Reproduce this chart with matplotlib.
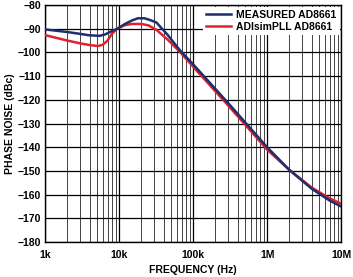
import matplotlib.pyplot as plt
import matplotlib.ticker as mticker
import numpy as np

plt.rcParams['font.family'] = ['Liberation Sans', 'DejaVu Sans']
plt.rcParams['font.weight'] = 'bold'

# frequency (Hz) and phase noise (dBc/Hz)
freq_meas = [1e3, 2e3, 3e3, 4e3, 5.5e3, 6.5e3, 8e3, 9.5e3, 12e3, 15e3, 18e3, 22e3,
             26e3, 32e3, 45e3, 66e3, 100e3, 300e3, 1e6, 2e6, 4e6, 7e6, 10e6]
pn_meas = [-90.3, -91.4, -92.2, -92.8, -93.0, -92.4, -91.0, -90.0, -88.0, -86.5,
           -85.6, -85.6, -86.3, -87.4, -92.5, -99.0, -105.0, -121.5, -140.0,
           -149.6, -157.5, -162.5, -165.0]

freq_sim = [1e3, 2e3, 3e3, 4e3, 5.2e3, 6e3, 7e3, 8e3, 9.4e3, 12e3, 15e3, 20e3, 25e3,
            32e3, 45e3, 66e3, 100e3, 300e3, 1e6, 2e6, 4e6, 7e6, 10e6]
pn_sim = [-92.7, -95.0, -96.2, -96.9, -97.3, -96.8, -95.0, -92.2, -90.0, -88.5,
          -88.0, -88.0, -88.6, -90.5, -94.5, -99.7, -106.0, -122.5, -141.0,
          -149.6, -157.0, -161.6, -163.8]

labels = ['MEASURED AD8661', 'ADIsimPLL AD8661']
xtick_vals = [1e3, 1e4, 1e5, 1e6, 1e7]
xtick_labels = ['1k', '10k', '100k', '1M', '10M']

fig = plt.figure(figsize=(3.53, 2.77), dpi=100)
ax = fig.add_axes([0.1275, 0.126, 0.839, 0.856])

ax.semilogx(freq_meas, pn_meas, color='#1c2f6e', lw=1.8, label=labels[0], zorder=4)
ax.semilogx(freq_sim, pn_sim, color='#e3202b', lw=1.8, label=labels[1], zorder=3)

ax.set_xlim(1e3, 1e7)
ax.set_ylim(-180, -80)
ax.set_yticks(np.arange(-180, -79, 10))
ax.xaxis.set_major_locator(mticker.FixedLocator(xtick_vals))
ax.xaxis.set_major_formatter(mticker.FixedFormatter(xtick_labels))
ax.xaxis.set_minor_locator(mticker.LogLocator(base=10, subs=np.arange(2, 10)))
ax.xaxis.set_minor_formatter(mticker.NullFormatter())

ax.grid(which='major', color='black', lw=0.9)
ax.grid(which='minor', axis='x', color='#444444', lw=0.7)
ax.tick_params(which='both', length=0, labelsize=7.5)
ax.tick_params(axis='x', pad=6)
ax.tick_params(axis='y', pad=3)
for lab in ax.get_xticklabels() + ax.get_yticklabels():
    lab.set_fontweight('bold')
for s in ax.spines.values():
    s.set_color('black')
    s.set_linewidth(1.0)

ax.set_xlabel('FREQUENCY (Hz)', fontsize=7.5, fontweight='bold', labelpad=3)
ax.set_ylabel('PHASE NOISE (dBc)', fontsize=7.5, fontweight='bold', labelpad=2)

leg = ax.legend(loc='upper right', fontsize=7.5, frameon=True, fancybox=False,
                handlelength=2.4, handletextpad=0.5, borderpad=0.3,
                labelspacing=0.2, borderaxespad=0.15)
leg.get_frame().set_facecolor('white')
leg.get_frame().set_edgecolor('none')
leg.get_frame().set_alpha(1)
for t in leg.get_texts():
    t.set_fontweight('bold')
leg.set_zorder(5)

fig.savefig('out.png', dpi=100)
